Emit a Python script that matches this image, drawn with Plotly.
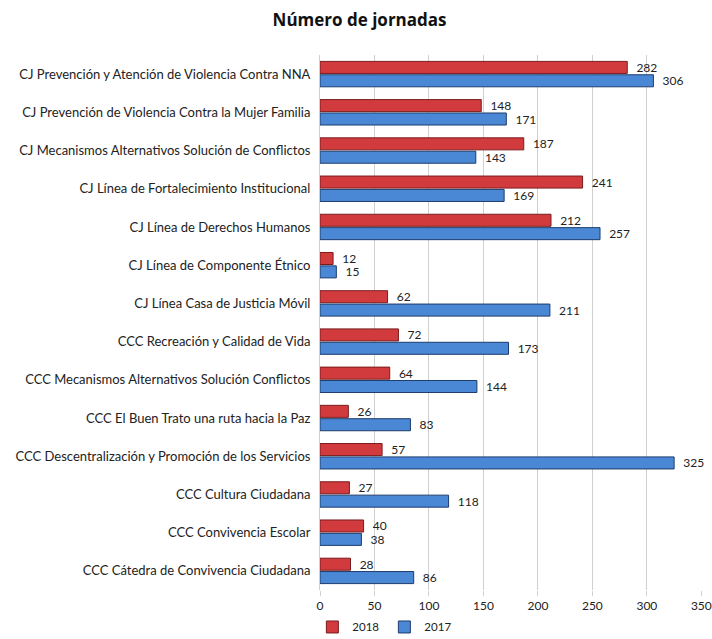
import plotly.graph_objects as go

categories = [
    "CJ Prevención y Atención de Violencia Contra NNA",
    "CJ Prevención de Violencia Contra la Mujer Familia",
    "CJ Mecanismos Alternativos Solución de Conflictos",
    "CJ Línea de Fortalecimiento Institucional",
    "CJ Línea de Derechos Humanos",
    "CJ Línea de Componente Étnico",
    "CJ Línea Casa de Justicia Móvil",
    "CCC Recreación y Calidad de Vida",
    "CCC Mecanismos Alternativos Solución Conflictos",
    "CCC El Buen Trato una ruta hacia la Paz",
    "CCC Descentralización y Promoción de los Servicios",
    "CCC Cultura Ciudadana",
    "CCC Convivencia Escolar",
    "CCC Cátedra de Convivencia Ciudadana",
]
values_2018 = [282, 148, 187, 241, 212, 12, 62, 72, 64, 26, 57, 27, 40, 28]
values_2017 = [306, 171, 143, 169, 257, 15, 211, 173, 144, 83, 325, 118, 38, 86]
x_ticks = [0, 50, 100, 150, 200, 250, 300, 350]

FONT = "Lato"

fig = go.Figure()
fig.add_trace(go.Bar(
    name="2018", y=categories, x=values_2018, orientation="h",
    marker=dict(color="#d23b3e", line=dict(color="#7a1c1e", width=1)),
    text=["  " + str(v) for v in values_2018], textposition="outside", cliponaxis=False,
    constraintext="none",
    textfont=dict(size=12, color="#222", family=FONT),
))
fig.add_trace(go.Bar(
    name="2017", y=categories, x=values_2017, orientation="h",
    marker=dict(color="#4a88d6", line=dict(color="#1d3c6c", width=1)),
    text=["  " + str(v) for v in values_2017], textposition="outside", cliponaxis=False,
    constraintext="none",
    textfont=dict(size=12, color="#222", family=FONT),
))

fig.update_layout(
    width=712, height=639,
    margin=dict(l=320, r=10, t=55, b=49, autoexpand=False),
    paper_bgcolor="white", plot_bgcolor="white",
    barmode="group", bargap=0.3, bargroupgap=0.1,
    title=dict(text="<b>Número de jornadas</b>", x=0.505, xanchor="center", y=0.968, yanchor="middle",
               font=dict(size=17, color="#111", family="Open Sans")),
    font=dict(family=FONT, size=12, color="#222"),
    showlegend=True,
    legend=dict(orientation="h", x=-0.02, xanchor="left", y=-0.042, yanchor="top",
                font=dict(size=11.5, family=FONT), itemwidth=30, tracegroupgap=0),
    xaxis=dict(range=[0, 350.6], tickvals=x_ticks, showgrid=True, gridcolor="#d0d0d0", gridwidth=1,
               zeroline=False, showline=False, ticks="outside", ticklen=5, tickcolor="#d0d0d0",
               automargin=False, tickfont=dict(size=12, family=FONT)),
    yaxis=dict(autorange="reversed", showgrid=False, showline=True, linecolor="#cfcfcf",
               ticks="", ticklabelstandoff=6, automargin=False,
               tickfont=dict(size=13, family=FONT)),
)
fig.write_html("out.html", config={"displayModeBar": False},
               post_script="document.body.style.margin='0';document.body.style.overflow='hidden';")
